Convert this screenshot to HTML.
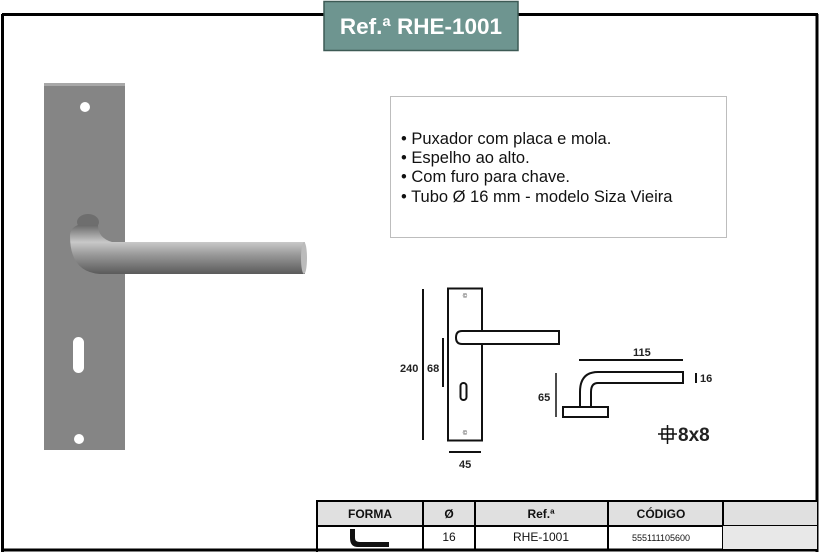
<!DOCTYPE html>
<html><head><meta charset="utf-8"><style>
html,body{margin:0;padding:0;background:#fff;}
body{width:820px;height:553px;position:relative;overflow:hidden;font-family:"Liberation Sans",sans-serif;}
.abs{position:absolute;}
</style></head><body>
<svg class="abs" style="left:0;top:0" width="820" height="553" viewBox="0 0 820 553">
<defs>
<linearGradient id="tube" x1="0" y1="0" x2="0" y2="1">
<stop offset="0" stop-color="#6a6a6a"/><stop offset="0.35" stop-color="#c8c8c8"/><stop offset="0.6" stop-color="#9a9a9a"/><stop offset="1" stop-color="#5a5a5a"/>
</linearGradient>
</defs>
<line x1="2" y1="14.5" x2="818" y2="14.5" stroke="#000" stroke-width="3"/>
<line x1="2.5" y1="14" x2="2.5" y2="552" stroke="#000" stroke-width="3"/>
<line x1="817" y1="14" x2="817" y2="552" stroke="#000" stroke-width="3"/>
<line x1="2" y1="550" x2="818" y2="550" stroke="#000" stroke-width="3"/>
<rect x="324" y="1.5" width="194" height="49" fill="#6e9590" stroke="#3d5a55" stroke-width="1.5"/>
<text x="421" y="34" text-anchor="middle" font-size="22.5" font-weight="bold" fill="#fff">Ref.ª RHE-1001</text>
<rect x="44" y="83" width="81" height="367" fill="#858585"/>
<rect x="44" y="83" width="81" height="3" fill="#a8a8a8"/>
<circle cx="85" cy="107" r="5" fill="#fff"/>
<circle cx="79" cy="439" r="5" fill="#fff"/>
<rect x="73" y="337" width="11" height="36" rx="5.5" fill="#fff"/>
<ellipse cx="88" cy="222" rx="11" ry="8" fill="#6e6e6e"/>
<path d="M70 236 Q70 272 100 274 L305 274 L305 242 L112 242 Q98 238 98 225 L78 225 Q70 228 70 236 Z" fill="url(#tube)"/>
<ellipse cx="304" cy="258" rx="3" ry="16" fill="#bbb"/>
<rect x="390.5" y="96.5" width="336" height="141" fill="#fff" stroke="#bdbdbd" stroke-width="1"/>
<g font-size="16.5" fill="#111">
<text x="401" y="144">• Puxador com placa e mola.</text>
<text x="401" y="163">• Espelho ao alto.</text>
<text x="401" y="182">• Com furo para chave.</text>
<text x="401" y="202">• Tubo Ø 16 mm - modelo Siza Vieira</text>
</g>
<g stroke="#111" fill="none" stroke-width="2">
<rect x="448" y="288.5" width="34" height="152"/>
<path d="M482 331 L559 331 L559 344 L462 344 Q456 344 456 337.5 Q456 331 462 331 Z" fill="#fff"/>
<rect x="460.5" y="383" width="6" height="17" rx="3"/>
<line x1="423" y1="289" x2="423" y2="440"/>
<line x1="443" y1="338" x2="443" y2="387"/>
<line x1="449" y1="452" x2="481" y2="452"/>
<line x1="579" y1="360" x2="683" y2="360"/>
<path d="M580 407 L580 392 Q580 372 598 372 L683 372 L683 383 L598 383 Q591 383 591 392 L591 407"/>
<rect x="563" y="407" width="45" height="10" fill="#fff"/>
<line x1="556" y1="373" x2="556" y2="417" stroke-width="1.5"/>
<line x1="696" y1="373" x2="696" y2="383"/>
</g>
<g font-size="6" fill="#111" text-anchor="middle"><text x="465" y="298">©</text><text x="465" y="435">©</text></g>
<g font-size="11" font-weight="bold" fill="#222">
<text x="400" y="372">240</text>
<text x="427" y="372">68</text>
<text x="459" y="468">45</text>
<text x="633" y="356">115</text>
<text x="700" y="382">16</text>
<text x="538" y="401">65</text>
</g>
<g stroke="#111" stroke-width="1.5" fill="none">
<rect x="662" y="429" width="11" height="10"/>
<line x1="667.5" y1="425" x2="667.5" y2="444"/>
<line x1="658" y1="434" x2="677" y2="434"/>
</g>
<text x="678" y="441" font-size="19" font-weight="bold" fill="#222">8x8</text>
<rect x="317" y="501" width="500" height="25" fill="#e0e0e0"/>
<g stroke="#000" stroke-width="2">
<line x1="316" y1="501" x2="818" y2="501"/>
<line x1="317" y1="526" x2="818" y2="526"/>
<line x1="317" y1="500" x2="317" y2="552"/>
<line x1="423" y1="501" x2="423" y2="550"/>
<line x1="475" y1="501" x2="475" y2="550"/>
<line x1="608" y1="501" x2="608" y2="550"/>
<line x1="723" y1="501" x2="723" y2="550"/>
</g>
<rect x="723" y="526" width="94" height="23" fill="#e8e8e8"/>
<g font-size="12" font-weight="bold" fill="#111" text-anchor="middle">
<text x="370" y="518">FORMA</text>
<text x="449" y="518">Ø</text>
<text x="541" y="518">Ref.ª</text>
<text x="661" y="518">CÓDIGO</text>
</g>
<g font-size="12" fill="#111" text-anchor="middle">
<text x="449" y="541">16</text>
<text x="541" y="541">RHE-1001</text>
<text x="661" y="541" font-size="9">555111105600</text>
</g>
<path d="M350 529 L355 529 L355 538 Q355 542 360 542 L389 542 L389 547 L358 547 Q350 547 350 538 Z" fill="#111"/>
</svg>
</body></html>
